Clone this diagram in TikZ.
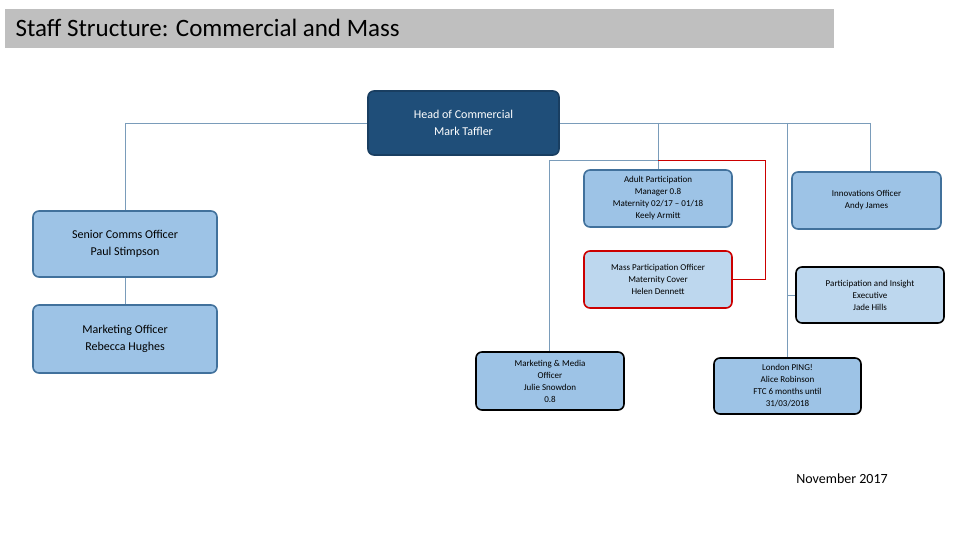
\documentclass[tikz,border=0pt]{standalone}
\usepackage{fontspec}
\setmainfont{Carlito}
\begin{document}
\begin{tikzpicture}[x=1pt,y=-1pt,
 box/.style={draw=#1,line width=1.6pt,rounded corners=6pt,align=center,inner sep=0pt},
 ln/.style={draw=black!20!blue!30!gray,line width=0.8pt},
 sm/.style={font=\fontsize{9}{12}\selectfont},
 md/.style={font=\fontsize{12}{17}\selectfont}]
\useasboundingbox (0,0) rectangle (960,540);
\definecolor{dk}{HTML}{1F4E79}\definecolor{mid}{HTML}{9DC3E6}\definecolor{lt}{HTML}{BDD7EE}\definecolor{bd}{HTML}{41719C}
\tikzset{ln/.style={draw=bd!70,line width=0.9pt}}
\fill[gray!50] (5,9) rectangle (834,48);
\node[anchor=west,font=\fontsize{25}{28}\selectfont] (title) at (12,28) {Staff Structure: Commercial and Mass};
% connectors
\coordinate (hl) at (125,123);\coordinate (hr) at (870,123);
\draw[ln] (hl) -- (hr);
\draw[ln] (hl) -- (125,211);
\draw[ln] (125,277) -- (125,305);
\draw[ln] (658,123) -- (658,170);
\draw[ln] (787,123) -- (787,358);
\draw[ln] (787,295) -- (796,295);
\draw[ln] (870,123) -- (870,172);
\draw[ln] (658,160) -- (549,160) -- (549,352);
\draw[red!80!black,line width=0.9pt] (658,160) -- (765,160) -- (765,279) -- (732,279);
% boxes
\node[box=dk!80!black,fill=dk,text=white,minimum width=191,minimum height=64,md] (head) at (463.5,123) {Head of Commercial\\Mark Taffler};
\node[box=bd,fill=mid,minimum width=184,minimum height=66,md] (senior) at (125,244) {Senior Comms Officer\\Paul Stimpson};
\node[box=bd,fill=mid,minimum width=184,minimum height=68,md] (mkt) at (125,339) {Marketing Officer\\Rebecca Hughes};
\node[box=bd,fill=mid,minimum width=148,minimum height=57,sm] (adult) at (658,198.5) {Adult Participation\\Manager 0.8\\Maternity 02/17 – 01/18\\Keely Armitt};
\node[box=red!80!black,fill=lt,minimum width=148,minimum height=57,sm] (mass) at (658,279.5) {Mass Participation Officer\\Maternity Cover\\Helen Dennett};
\node[box=bd,fill=mid,minimum width=149,minimum height=57,sm] (innov) at (866.5,200.5) {Innovations Officer\\Andy James};
\node[box=black,fill=lt,minimum width=148,minimum height=56,sm] (part) at (870,295) {Participation and Insight\\Executive\\Jade Hills};
\node[box=black,fill=mid,minimum width=148,minimum height=58,sm] (mm) at (550,381) {Marketing \& Media\\Officer\\Julie Snowdon\\0.8};
\node[box=black,fill=mid,minimum width=147,minimum height=56,sm] (london) at (787.5,386) {London PING!\\Alice Robinson\\FTC 6 months until\\31/03/2018};
\node[font=\fontsize{14}{16}\selectfont] (date) at (842,479) {November 2017};
\end{tikzpicture}
\end{document}
